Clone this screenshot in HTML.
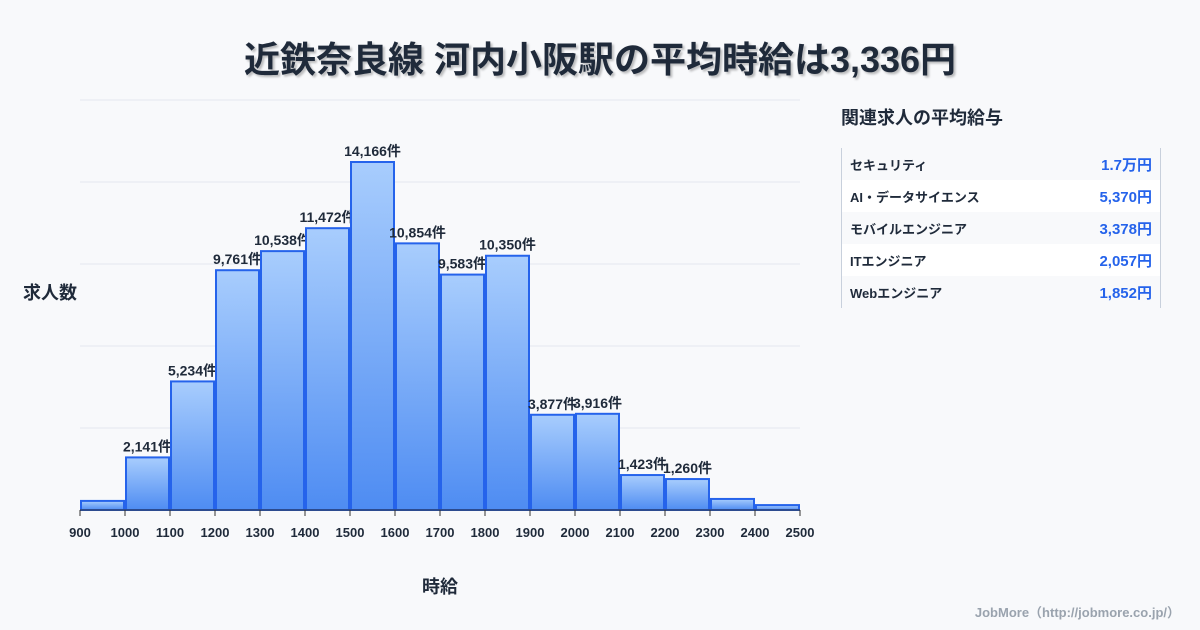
<!DOCTYPE html>
<html><head><meta charset="utf-8"><style>
body{margin:0;background:#f8f9fb;font-family:"Liberation Sans","Noto Sans CJK JP",sans-serif;}
#wrap{position:relative;width:1200px;height:630px;overflow:hidden;background:#f8f9fb;}
.title{position:absolute;top:31px;left:0;width:1200px;text-align:center;font-size:36px;font-weight:bold;color:#1f2a3a;text-shadow:2px 2px 2px rgba(0,0,0,0.25);}
.side{position:absolute;left:841px;top:104px;font-size:18px;font-weight:bold;color:#1f2a3a;}
table{position:absolute;left:841px;top:148px;width:320px;border-collapse:collapse;border-left:1px solid #c8d0dc;border-right:1px solid #c8d0dc;}
td{height:32px;font-size:13px;font-weight:bold;color:#1f2a3a;padding:0 8px;}
td.v{text-align:right;color:#2563eb;font-size:15px;}
tr:nth-child(even){background:#fff;}
.foot{position:absolute;right:20px;top:602px;font-size:13px;color:#9aa3ae;font-weight:bold;}
</style></head><body>
<div id="wrap">
<div class="title">近鉄奈良線 河内小阪駅の平均時給は3,336円</div>
<svg id="chart" width="830" height="630" style="position:absolute;left:0;top:0">
<defs><linearGradient id="g" x1="0" y1="0" x2="0" y2="1"><stop offset="0" stop-color="#a8cdfd"/><stop offset="1" stop-color="#4e8cf2"/></linearGradient></defs>
</svg>
<div class="side">関連求人の平均給与</div>
<table>
<tr><td>セキュリティ</td><td class="v">1.7万円</td></tr>
<tr><td>AI・データサイエンス</td><td class="v">5,370円</td></tr>
<tr><td>モバイルエンジニア</td><td class="v">3,378円</td></tr>
<tr><td>ITエンジニア</td><td class="v">2,057円</td></tr>
<tr><td>Webエンジニア</td><td class="v">1,852円</td></tr>
</table>
<div class="foot">JobMore（http://jobmore.co.jp/）</div>
</div>
<script>
const ticks=[900,1000,1100,1200,1300,1400,1500,1600,1700,1800,1900,2000,2100,2200,2300,2400,2500];
const counts=[370,2141,5234,9761,10538,11472,14166,10854,9583,10350,3877,3916,1423,1260,450,200];
const labeled=[false,true,true,true,true,true,true,true,true,true,true,true,true,true,false,false];
const yMax=16690;
const svg=document.getElementById('chart');
const NS='http://www.w3.org/2000/svg';
const X0=80,X1=800,Y0=510,Y1=100;
const x=v=>X0+(v-900)/(2500-900)*(X1-X0);
const y=v=>Y0-v/yMax*(Y0-Y1);
function mk(t,a){const e=document.createElementNS(NS,t);for(const k in a)e.setAttribute(k,a[k]);svg.appendChild(e);return e;}
for(let i=1;i<=5;i++){const gy=Y0-i*(Y0-Y1)/5;const l=mk('line',{x1:X0,x2:X1,y1:gy,y2:gy,stroke:'#e3e8ef','stroke-width':1});

}
counts.forEach((c,i)=>{const xa=x(ticks[i]),xb=x(ticks[i+1]);
const r=mk('rect',{x:xa+1,y:y(c),width:xb-xa-2,height:Y0-y(c),fill:'url(#g)',stroke:'#2563eb','stroke-width':2});


if(labeled[i]){const t=mk('text',{x:(xa+xb)/2,y:y(c)-6,'text-anchor':'middle','font-size':14,'font-weight':'bold',fill:'#1f2a3a'});
t.textContent=c.toLocaleString('en-US')+'件';

}});
const ax=mk('line',{x1:X0,x2:X1,y1:Y0,y2:Y0,stroke:'#333','stroke-width':1});


ticks.forEach(v=>{mk('line',{x1:x(v),x2:x(v),y1:Y0,y2:Y0+6,stroke:'#333'});
const t=mk('text',{x:x(v),y:537,'text-anchor':'middle','font-size':13,'font-weight':'bold',fill:'#1f2a3a'});
t.textContent=v;

});
const xt=mk('text',{x:440,y:593,'text-anchor':'middle','font-size':18,'font-weight':'bold',fill:'#1f2a3a'});xt.textContent='時給';


const yt=mk('text',{x:50,y:299,'text-anchor':'middle','font-size':18,'font-weight':'bold',fill:'#1f2a3a'});yt.textContent='求人数';


</script>
</body></html>
